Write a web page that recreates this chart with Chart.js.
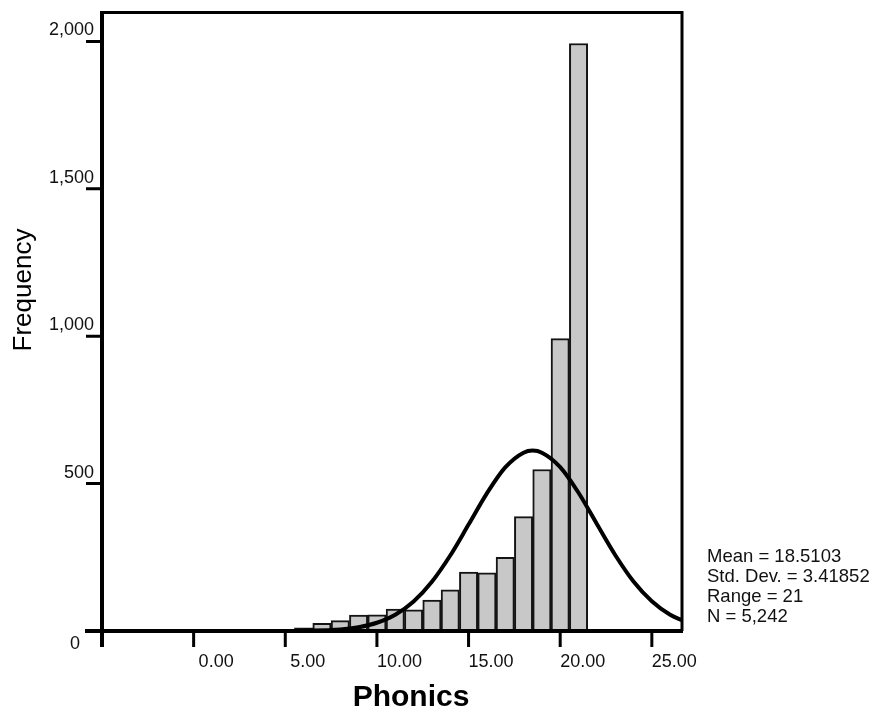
<!DOCTYPE html>
<html>
<head>
<meta charset="utf-8">
<script src="https://cdn.jsdelivr.net/npm/chart.js@4/dist/chart.umd.min.js"></script>
<style>
  body { margin: 0; background: #fff; }
  #wrap { width: 873px; height: 709px; position: relative; }
</style>
</head>
<body>
<div id="wrap"><canvas id="canvas"></canvas></div>
<script>
/* global Chart */

// Histogram bins (Phonics score) and their frequencies
const binCenters = [0, 1, 2, 3, 4, 5, 6, 7, 8, 9, 10, 11, 12, 13, 14, 15, 16, 17, 18, 19, 20, 21];
const binCounts = [1, 1, 2, 2, 3, 5, 11, 26, 35, 54, 55, 74, 72, 105, 140, 200, 197, 250, 388, 548, 992, 1993];

// Fitted normal curve
const curveX = [-5, 4, 6, 8, 9, 10, 11, 12, 13, 14, 15, 16, 17, 18, 18.5, 19, 20, 21, 22, 23, 24, 25, 26, 26.7];
const curveY = [0, 0, 1, 5, 13, 28, 55, 100, 167, 256, 361, 467, 555, 605, 612, 605, 556, 469, 363, 258, 168, 101, 55, 35];

// Axis ticks
const xTicks = [-5, 0, 5, 10, 15, 20, 25];
const xTickLabels = ["", "0.00", "5.00", "10.00", "15.00", "20.00", "25.00"];
const yTicks = [0, 500, 1000, 1500, 2000];
const yTickLabels = ["0", "500", "1,000", "1,500", "2,000"];

const statsLines = ["Mean = 18.5103", "Std. Dev. = 3.41852", "Range = 21", "N = 5,242"];

const fontFamily = "'Liberation Sans', Arial, sans-serif";

function buildData() {
  const bars = binCenters.map((x, i) => ({ x: x, y: binCounts[i] }));
  const curve = curveX.map((x, i) => ({ x: x, y: curveY[i] }));
  return {
    datasets: [
      {
        type: "line",
        data: curve,
        borderColor: "#000",
        borderWidth: 4,
        pointRadius: 0,
        cubicInterpolationMode: "monotone",
        fill: false,
        order: 0
      },
      {
        type: "bar",
        data: bars,
        backgroundColor: "#c8c8c8",
        borderColor: "#141414",
        borderWidth: 2,
        barPercentage: 1,
        categoryPercentage: 1,
        order: 1
      }
    ]
  };
}

// Draws the frame, tick marks, tick labels, titles and stats box text
const decorPlugin = {
  id: "decor",
  afterDraw(chart) {
    const ctx = chart.ctx;
    const a = chart.chartArea;
    const xs = chart.scales.x;
    const ys = chart.scales.y;
    ctx.save();
    ctx.strokeStyle = "#000";
    ctx.lineCap = "butt";

    // top and right border
    ctx.lineWidth = 3;
    ctx.beginPath();
    ctx.moveTo(a.left, a.top + 0.5);
    ctx.lineTo(a.right - 1, a.top + 0.5);
    ctx.lineTo(a.right - 1, a.bottom);
    ctx.stroke();

    // left and bottom axis lines
    ctx.lineWidth = 4;
    ctx.beginPath();
    ctx.moveTo(a.left, a.top - 1);
    ctx.lineTo(a.left, a.bottom + 16);
    ctx.moveTo(a.left - 17, a.bottom);
    ctx.lineTo(a.right, a.bottom);
    ctx.stroke();

    // tick marks
    ctx.lineWidth = 3;
    ctx.beginPath();
    xTicks.forEach((v) => {
      const px = xs.getPixelForValue(v);
      ctx.moveTo(px, a.bottom);
      ctx.lineTo(px, a.bottom + 16);
    });
    yTicks.forEach((v) => {
      const py = ys.getPixelForValue(v);
      ctx.moveTo(a.left - 16, py);
      ctx.lineTo(a.left, py);
    });
    ctx.stroke();

    // tick labels
    ctx.fillStyle = "#111";
    ctx.font = "18px " + fontFamily;
    ctx.textBaseline = "alphabetic";
    ctx.textAlign = "center";
    xTicks.forEach((v, i) => {
      const px = xs.getPixelForValue(v);
      ctx.fillText(xTickLabels[i], px + 22.5, 667);
    });
    ctx.textAlign = "right";
    yTicks.forEach((v, i) => {
      const py = ys.getPixelForValue(v);
      if (v === 0) {
        ctx.fillText(yTickLabels[i], a.left - 22, py + 18);
      } else {
        ctx.fillText(yTickLabels[i], a.left - 8, py - 6);
      }
    });

    // x title
    ctx.fillStyle = "#000";
    ctx.textAlign = "center";
    ctx.font = "bold 30px " + fontFamily;
    ctx.fillText("Phonics", 411, 706);

    // y title
    ctx.save();
    ctx.translate(31, 290);
    ctx.rotate(-Math.PI / 2);
    ctx.font = "26px " + fontFamily;
    ctx.fillText("Frequency", 0, 0);
    ctx.restore();

    // stats
    ctx.fillStyle = "#111";
    ctx.textAlign = "left";
    ctx.font = "18.5px " + fontFamily;
    statsLines.forEach((t, i) => {
      ctx.fillText(t, 707, 561.5 + i * 20);
    });

    ctx.restore();
  }
};

function buildConfig() {
  return {
    type: "bar",
    data: buildData(),
    options: {
      responsive: true,
      maintainAspectRatio: false,
      animation: false,
      layout: {
        padding: { left: 102, right: 190, top: 12, bottom: 78 }
      },
      plugins: {
        legend: { display: false },
        tooltip: { enabled: false }
      },
      scales: {
        x: {
          type: "linear",
          min: -5,
          max: 26.7,
          offset: false,
          display: false
        },
        y: {
          min: 0,
          max: 2100,
          display: false
        }
      }
    },
    plugins: [decorPlugin]
  };
}

function publishChart(config) {
  const ctx = document.getElementById("canvas").getContext("2d");
  window.myChart = new Chart(ctx, config);
}

publishChart(buildConfig());
</script>
</body>
</html>
